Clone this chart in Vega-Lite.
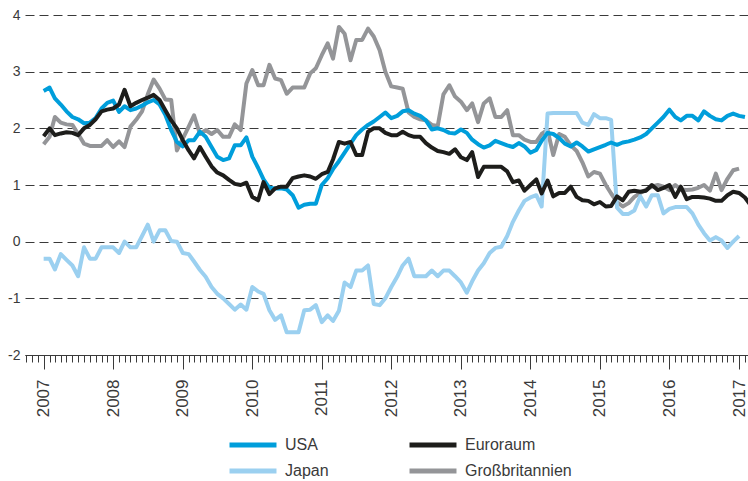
{
  "$schema": "https://vega.github.io/schema/vega-lite/v6.json",
  "width": 723,
  "height": 340,
  "autosize": {"type": "none"},
  "padding": {"left": 25, "top": 15, "right": 0, "bottom": 126},
  "background": "white",
  "config": {"view": {"stroke": null}, "font": "Liberation Sans"},
  "data": {"values": [
    {"d":"2007-01-01","USA":2.66,"Euroraum":1.86,"Japan":-0.3,"Großbritannien":1.72},
    {"d":"2007-02-01","USA":2.72,"Euroraum":2.0,"Japan":-0.3,"Großbritannien":1.85},
    {"d":"2007-03-01","USA":2.53,"Euroraum":1.88,"Japan":-0.49,"Großbritannien":2.2},
    {"d":"2007-04-01","USA":2.42,"Euroraum":1.91,"Japan":-0.22,"Großbritannien":2.1},
    {"d":"2007-05-01","USA":2.3,"Euroraum":1.93,"Japan":-0.32,"Großbritannien":2.07},
    {"d":"2007-06-01","USA":2.2,"Euroraum":1.92,"Japan":-0.42,"Großbritannien":2.06},
    {"d":"2007-07-01","USA":2.16,"Euroraum":1.88,"Japan":-0.61,"Großbritannien":1.9},
    {"d":"2007-08-01","USA":2.09,"Euroraum":2.0,"Japan":-0.1,"Großbritannien":1.73},
    {"d":"2007-09-01","USA":2.1,"Euroraum":2.06,"Japan":-0.3,"Großbritannien":1.69},
    {"d":"2007-10-01","USA":2.18,"Euroraum":2.16,"Japan":-0.3,"Großbritannien":1.69},
    {"d":"2007-11-01","USA":2.35,"Euroraum":2.3,"Japan":-0.1,"Großbritannien":1.69},
    {"d":"2007-12-01","USA":2.45,"Euroraum":2.33,"Japan":-0.1,"Großbritannien":1.79},
    {"d":"2008-01-01","USA":2.49,"Euroraum":2.35,"Japan":-0.1,"Großbritannien":1.67},
    {"d":"2008-02-01","USA":2.29,"Euroraum":2.42,"Japan":-0.2,"Großbritannien":1.77},
    {"d":"2008-03-01","USA":2.39,"Euroraum":2.68,"Japan":0.0,"Großbritannien":1.67},
    {"d":"2008-04-01","USA":2.32,"Euroraum":2.39,"Japan":-0.1,"Großbritannien":2.03},
    {"d":"2008-05-01","USA":2.35,"Euroraum":2.45,"Japan":-0.1,"Großbritannien":2.15},
    {"d":"2008-06-01","USA":2.4,"Euroraum":2.5,"Japan":0.1,"Großbritannien":2.3},
    {"d":"2008-07-01","USA":2.46,"Euroraum":2.54,"Japan":0.3,"Großbritannien":2.6},
    {"d":"2008-08-01","USA":2.5,"Euroraum":2.59,"Japan":0.0,"Großbritannien":2.86},
    {"d":"2008-09-01","USA":2.42,"Euroraum":2.5,"Japan":0.2,"Großbritannien":2.7},
    {"d":"2008-10-01","USA":2.24,"Euroraum":2.32,"Japan":0.2,"Großbritannien":2.51},
    {"d":"2008-11-01","USA":1.97,"Euroraum":2.14,"Japan":0.01,"Großbritannien":2.5},
    {"d":"2008-12-01","USA":1.76,"Euroraum":2.0,"Japan":0.0,"Großbritannien":1.61},
    {"d":"2009-01-01","USA":1.68,"Euroraum":1.79,"Japan":-0.2,"Großbritannien":1.82},
    {"d":"2009-02-01","USA":1.79,"Euroraum":1.61,"Japan":-0.22,"Großbritannien":2.03},
    {"d":"2009-03-01","USA":1.79,"Euroraum":1.47,"Japan":-0.35,"Großbritannien":2.23},
    {"d":"2009-04-01","USA":1.94,"Euroraum":1.67,"Japan":-0.5,"Großbritannien":1.9},
    {"d":"2009-05-01","USA":1.85,"Euroraum":1.5,"Japan":-0.62,"Großbritannien":1.97},
    {"d":"2009-06-01","USA":1.67,"Euroraum":1.33,"Japan":-0.8,"Großbritannien":1.9},
    {"d":"2009-07-01","USA":1.5,"Euroraum":1.22,"Japan":-0.92,"Großbritannien":1.97},
    {"d":"2009-08-01","USA":1.44,"Euroraum":1.17,"Japan":-1.0,"Großbritannien":1.85},
    {"d":"2009-09-01","USA":1.47,"Euroraum":1.09,"Japan":-1.1,"Großbritannien":1.85},
    {"d":"2009-10-01","USA":1.7,"Euroraum":1.02,"Japan":-1.2,"Großbritannien":2.07},
    {"d":"2009-11-01","USA":1.7,"Euroraum":1.0,"Japan":-1.11,"Großbritannien":1.97},
    {"d":"2009-12-01","USA":1.84,"Euroraum":1.04,"Japan":-1.2,"Großbritannien":2.79},
    {"d":"2010-01-01","USA":1.5,"Euroraum":0.79,"Japan":-0.8,"Großbritannien":3.03},
    {"d":"2010-02-01","USA":1.3,"Euroraum":0.73,"Japan":-0.88,"Großbritannien":2.76},
    {"d":"2010-03-01","USA":1.1,"Euroraum":1.05,"Japan":-0.92,"Großbritannien":2.76},
    {"d":"2010-04-01","USA":0.95,"Euroraum":0.84,"Japan":-1.21,"Großbritannien":3.12},
    {"d":"2010-05-01","USA":0.94,"Euroraum":0.94,"Japan":-1.38,"Großbritannien":2.88},
    {"d":"2010-06-01","USA":0.94,"Euroraum":0.97,"Japan":-1.3,"Großbritannien":2.85},
    {"d":"2010-07-01","USA":0.92,"Euroraum":0.97,"Japan":-1.6,"Großbritannien":2.61},
    {"d":"2010-08-01","USA":0.82,"Euroraum":1.12,"Japan":-1.6,"Großbritannien":2.72},
    {"d":"2010-09-01","USA":0.6,"Euroraum":1.15,"Japan":-1.6,"Großbritannien":2.72},
    {"d":"2010-10-01","USA":0.65,"Euroraum":1.17,"Japan":-1.21,"Großbritannien":2.72},
    {"d":"2010-11-01","USA":0.67,"Euroraum":1.15,"Japan":-1.2,"Großbritannien":2.97},
    {"d":"2010-12-01","USA":0.67,"Euroraum":1.11,"Japan":-1.12,"Großbritannien":3.06},
    {"d":"2011-01-01","USA":1.0,"Euroraum":1.19,"Japan":-1.42,"Großbritannien":3.29},
    {"d":"2011-02-01","USA":1.12,"Euroraum":1.23,"Japan":-1.3,"Großbritannien":3.5},
    {"d":"2011-03-01","USA":1.28,"Euroraum":1.45,"Japan":-1.4,"Großbritannien":3.23},
    {"d":"2011-04-01","USA":1.42,"Euroraum":1.76,"Japan":-1.22,"Großbritannien":3.79},
    {"d":"2011-05-01","USA":1.57,"Euroraum":1.73,"Japan":-0.72,"Großbritannien":3.67},
    {"d":"2011-06-01","USA":1.73,"Euroraum":1.76,"Japan":-0.8,"Großbritannien":3.2},
    {"d":"2011-07-01","USA":1.88,"Euroraum":1.53,"Japan":-0.51,"Großbritannien":3.56},
    {"d":"2011-08-01","USA":1.98,"Euroraum":1.53,"Japan":-0.51,"Großbritannien":3.56},
    {"d":"2011-09-01","USA":2.06,"Euroraum":1.94,"Japan":-0.42,"Großbritannien":3.76},
    {"d":"2011-10-01","USA":2.12,"Euroraum":2.0,"Japan":-1.1,"Großbritannien":3.62},
    {"d":"2011-11-01","USA":2.2,"Euroraum":2.0,"Japan":-1.12,"Großbritannien":3.38},
    {"d":"2011-12-01","USA":2.28,"Euroraum":1.92,"Japan":-1.0,"Großbritannien":3.0},
    {"d":"2012-01-01","USA":2.18,"Euroraum":1.88,"Japan":-0.8,"Großbritannien":2.74},
    {"d":"2012-02-01","USA":2.22,"Euroraum":1.88,"Japan":-0.62,"Großbritannien":2.72},
    {"d":"2012-03-01","USA":2.3,"Euroraum":1.94,"Japan":-0.42,"Großbritannien":2.7},
    {"d":"2012-04-01","USA":2.32,"Euroraum":1.88,"Japan":-0.3,"Großbritannien":2.28},
    {"d":"2012-05-01","USA":2.26,"Euroraum":1.85,"Japan":-0.61,"Großbritannien":2.2},
    {"d":"2012-06-01","USA":2.22,"Euroraum":1.85,"Japan":-0.61,"Großbritannien":2.16},
    {"d":"2012-07-01","USA":2.14,"Euroraum":1.74,"Japan":-0.61,"Großbritannien":2.14},
    {"d":"2012-08-01","USA":1.98,"Euroraum":1.66,"Japan":-0.51,"Großbritannien":2.06},
    {"d":"2012-09-01","USA":2.0,"Euroraum":1.6,"Japan":-0.61,"Großbritannien":2.04},
    {"d":"2012-10-01","USA":1.97,"Euroraum":1.58,"Japan":-0.51,"Großbritannien":2.6},
    {"d":"2012-11-01","USA":1.92,"Euroraum":1.55,"Japan":-0.51,"Großbritannien":2.76},
    {"d":"2012-12-01","USA":1.91,"Euroraum":1.63,"Japan":-0.61,"Großbritannien":2.56},
    {"d":"2013-01-01","USA":1.98,"Euroraum":1.49,"Japan":-0.72,"Großbritannien":2.47},
    {"d":"2013-02-01","USA":1.92,"Euroraum":1.44,"Japan":-0.9,"Großbritannien":2.32},
    {"d":"2013-03-01","USA":1.8,"Euroraum":1.58,"Japan":-0.7,"Großbritannien":2.44},
    {"d":"2013-04-01","USA":1.72,"Euroraum":1.14,"Japan":-0.51,"Großbritannien":2.11},
    {"d":"2013-05-01","USA":1.66,"Euroraum":1.32,"Japan":-0.38,"Großbritannien":2.44},
    {"d":"2013-06-01","USA":1.7,"Euroraum":1.32,"Japan":-0.2,"Großbritannien":2.53},
    {"d":"2013-07-01","USA":1.78,"Euroraum":1.32,"Japan":-0.11,"Großbritannien":2.2},
    {"d":"2013-08-01","USA":1.74,"Euroraum":1.32,"Japan":-0.09,"Großbritannien":2.2},
    {"d":"2013-09-01","USA":1.7,"Euroraum":1.24,"Japan":0.1,"Großbritannien":2.32},
    {"d":"2013-10-01","USA":1.67,"Euroraum":1.05,"Japan":0.35,"Großbritannien":1.88},
    {"d":"2013-11-01","USA":1.74,"Euroraum":1.08,"Japan":0.55,"Großbritannien":1.88},
    {"d":"2013-12-01","USA":1.68,"Euroraum":0.9,"Japan":0.72,"Großbritannien":1.8},
    {"d":"2014-01-01","USA":1.57,"Euroraum":1.0,"Japan":0.78,"Großbritannien":1.76},
    {"d":"2014-02-01","USA":1.62,"Euroraum":1.1,"Japan":0.82,"Großbritannien":1.76},
    {"d":"2014-03-01","USA":1.78,"Euroraum":0.85,"Japan":0.62,"Großbritannien":1.9},
    {"d":"2014-04-01","USA":1.92,"Euroraum":1.08,"Japan":2.26,"Großbritannien":1.97},
    {"d":"2014-05-01","USA":1.9,"Euroraum":0.8,"Japan":2.27,"Großbritannien":1.53},
    {"d":"2014-06-01","USA":1.83,"Euroraum":0.86,"Japan":2.27,"Großbritannien":1.9},
    {"d":"2014-07-01","USA":1.73,"Euroraum":0.86,"Japan":2.27,"Großbritannien":1.85},
    {"d":"2014-08-01","USA":1.68,"Euroraum":0.97,"Japan":2.27,"Großbritannien":1.7},
    {"d":"2014-09-01","USA":1.75,"Euroraum":0.79,"Japan":2.27,"Großbritannien":1.6},
    {"d":"2014-10-01","USA":1.68,"Euroraum":0.73,"Japan":2.1,"Großbritannien":1.4},
    {"d":"2014-11-01","USA":1.59,"Euroraum":0.72,"Japan":2.06,"Großbritannien":1.15},
    {"d":"2014-12-01","USA":1.63,"Euroraum":0.66,"Japan":2.25,"Großbritannien":1.23},
    {"d":"2015-01-01","USA":1.67,"Euroraum":0.7,"Japan":2.18,"Großbritannien":1.2},
    {"d":"2015-02-01","USA":1.71,"Euroraum":0.62,"Japan":2.18,"Großbritannien":1.0},
    {"d":"2015-03-01","USA":1.75,"Euroraum":0.63,"Japan":2.15,"Großbritannien":0.85},
    {"d":"2015-04-01","USA":1.71,"Euroraum":0.8,"Japan":0.6,"Großbritannien":0.7},
    {"d":"2015-05-01","USA":1.75,"Euroraum":0.73,"Japan":0.49,"Großbritannien":0.62},
    {"d":"2015-06-01","USA":1.77,"Euroraum":0.88,"Japan":0.49,"Großbritannien":0.68},
    {"d":"2015-07-01","USA":1.8,"Euroraum":0.9,"Japan":0.55,"Großbritannien":0.79},
    {"d":"2015-08-01","USA":1.84,"Euroraum":0.88,"Japan":0.8,"Großbritannien":0.86},
    {"d":"2015-09-01","USA":1.9,"Euroraum":0.9,"Japan":0.62,"Großbritannien":0.92},
    {"d":"2015-10-01","USA":2.0,"Euroraum":1.0,"Japan":0.82,"Großbritannien":0.97},
    {"d":"2015-11-01","USA":2.1,"Euroraum":0.91,"Japan":0.82,"Großbritannien":1.0},
    {"d":"2015-12-01","USA":2.2,"Euroraum":0.95,"Japan":0.5,"Großbritannien":0.97},
    {"d":"2016-01-01","USA":2.33,"Euroraum":1.0,"Japan":0.58,"Großbritannien":0.91},
    {"d":"2016-02-01","USA":2.2,"Euroraum":0.79,"Japan":0.61,"Großbritannien":1.0},
    {"d":"2016-03-01","USA":2.14,"Euroraum":0.97,"Japan":0.61,"Großbritannien":0.92},
    {"d":"2016-04-01","USA":2.22,"Euroraum":0.75,"Japan":0.61,"Großbritannien":0.91},
    {"d":"2016-05-01","USA":2.22,"Euroraum":0.79,"Japan":0.5,"Großbritannien":0.92},
    {"d":"2016-06-01","USA":2.14,"Euroraum":0.79,"Japan":0.3,"Großbritannien":0.95},
    {"d":"2016-07-01","USA":2.3,"Euroraum":0.78,"Japan":0.15,"Großbritannien":1.0},
    {"d":"2016-08-01","USA":2.22,"Euroraum":0.76,"Japan":0.02,"Großbritannien":0.9},
    {"d":"2016-09-01","USA":2.16,"Euroraum":0.72,"Japan":0.08,"Großbritannien":1.2},
    {"d":"2016-10-01","USA":2.14,"Euroraum":0.72,"Japan":0.02,"Großbritannien":0.91},
    {"d":"2016-11-01","USA":2.22,"Euroraum":0.82,"Japan":-0.11,"Großbritannien":1.11},
    {"d":"2016-12-01","USA":2.26,"Euroraum":0.88,"Japan":0.0,"Großbritannien":1.26},
    {"d":"2017-01-01","USA":2.22,"Euroraum":0.86,"Japan":0.1,"Großbritannien":1.29},
    {"d":"2017-02-01","USA":2.2,"Euroraum":0.78,"Japan":null,"Großbritannien":null},
    {"d":"2017-03-01","USA":null,"Euroraum":0.65,"Japan":null,"Großbritannien":null}
  ]},
  "transform": [
    {"fold": ["Großbritannien", "Japan", "USA", "Euroraum"], "as": ["Serie", "Wert"]},
    {"filter": "datum.Wert != null"}
  ],
  "resolve": {"axis": {"x": "independent"}},
  "layer": [
    {
      "mark": {"type": "line", "strokeWidth": 4, "strokeJoin": "round", "clip": true},
      "encoding": {
        "x": {
          "field": "d", "type": "temporal",
          "scale": {"type": "utc", "domain": [{"year": 2006, "month": 9, "date": 25, "utc": true}, {"year": 2017, "month": 2, "date": 17, "utc": true}]},
          "axis": {
            "orient": "bottom", "title": null, "grid": false,
            "tickCount": {"interval": "year", "step": 1},
            "format": "%Y", "formatType": "utc",
            "labelAngle": -90, "labelAlign": "right", "labelBaseline": "middle",
            "labelFont": "Liberation Sans", "labelFontSize": 17, "labelColor": "#3a3a3a",
            "labelPadding": 10, "labelOverlap": false, "labelFlush": false,
            "tickSize": 14, "tickColor": "#3a3a3a", "tickWidth": 1,
            "domainColor": "#3a3a3a", "domainWidth": 1
          }
        },
        "y": {
          "field": "Wert", "type": "quantitative",
          "scale": {"domain": [-2, 4], "nice": false, "zero": false},
          "axis": {
            "title": null, "values": [-2, -1, 0, 1, 2, 3, 4],
            "labelExpr": "'' + datum.value",
            "grid": true, "gridDash": [9, 5], "gridColor": "#3a3a3a", "gridWidth": 1,
            "domain": false, "ticks": false, "labelPadding": 5,
            "labelFont": "Liberation Sans", "labelFontSize": 14, "labelColor": "#3a3a3a"
          }
        },
        "color": {
          "field": "Serie", "type": "nominal",
          "scale": {"domain": ["USA", "Euroraum", "Japan", "Großbritannien"], "range": ["#009edb", "#1d1d1b", "#9bd0f0", "#949598"]},
          "legend": {
            "orient": "none", "legendX": 212, "legendY": 414, "title": null,
            "columns": 2, "direction": "horizontal", "padding": 0,
            "symbolType": "M-1.74,0H1.74", "symbolSize": 729, "symbolStrokeWidth": 5,
            "labelFont": "Liberation Sans", "labelFontSize": 16, "labelColor": "#3a3a3a",
            "labelOffset": 16, "columnPadding": 70, "rowPadding": 0
          }
        }
      }
    },
    {
      "mark": {"type": "point", "opacity": 0},
      "encoding": {
        "x": {
          "field": "d", "type": "temporal",
          "axis": {
            "orient": "bottom", "title": null, "grid": false, "labels": false, "domain": false,
            "tickCount": {"interval": "month", "step": 1},
            "tickSize": 7, "tickColor": "#3a3a3a", "tickWidth": 1
          }
        }
      }
    }
  ]
}
